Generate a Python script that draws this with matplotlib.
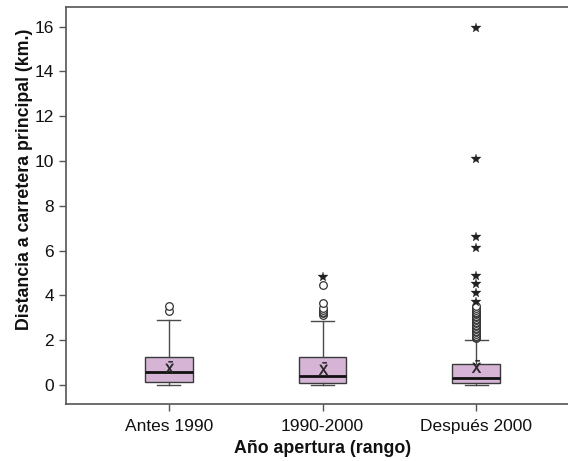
import matplotlib
matplotlib.use("Agg")
from matplotlib import pyplot as plt

plt.rcParams['font.family'] = ['Liberation Sans', 'DejaVu Sans']

# Summary statistics per opening-year group (km to main road)
groups = ["Antes 1990", "1990-2000", "Después 2000"]
q1 = [0.15, 0.10, 0.07]
median = [0.59, 0.38, 0.33]
q3 = [1.26, 1.26, 0.94]
whisker_low = [0.02, 0.02, 0.0]
whisker_high = [2.90, 2.85, 2.00]
means = [0.80, 0.78, 0.85]

# outliers (circles) and extreme values (stars)
outliers = [
    [3.32, 3.53],
    [3.12, 3.2, 3.27, 3.35, 3.45, 3.66, 4.46],
    [2.08, 2.15, 2.2, 2.28, 2.35, 2.42, 2.48, 2.55, 2.62, 2.7, 2.76,
     2.83, 2.9, 2.96, 3.02, 3.08, 3.15, 3.22, 3.28, 3.35, 3.45, 3.52],
]
extremes = [
    [],
    [4.84],
    [3.72, 4.12, 4.5, 4.87, 6.1, 6.62, 10.08, 15.95],
]

positions = [1, 2, 3]

fig = plt.figure(figsize=(5.68, 4.61), dpi=100)
ax = fig.add_axes([66 / 568, 1 - 404 / 461, 513 / 568, 397 / 461])

stats = []
for i, g in enumerate(groups):
    stats.append(dict(label=g, q1=q1[i], med=median[i], q3=q3[i],
                      whislo=whisker_low[i], whishi=whisker_high[i],
                      mean=means[i], fliers=[]))

ax.bxp(stats, positions=positions, widths=0.31, patch_artist=True,
       showmeans=True, showfliers=False,
       boxprops=dict(facecolor='#d6b4d6', edgecolor='#3a3a3a', linewidth=1.0),
       medianprops=dict(color='#111111', linewidth=2.0),
       whiskerprops=dict(color='#4a4a4a', linewidth=1.0),
       capprops=dict(color='#4a4a4a', linewidth=1.0),
       capwidths=0.15,
       meanprops=dict(marker=r'$\bar{\mathrm{X}}$', markersize=9,
                      markerfacecolor='#222222', markeredgecolor='#222222',
                      markeredgewidth=0.4))

for pos, vals in zip(positions, outliers):
    ax.plot([pos] * len(vals), vals, linestyle='none', marker='o',
            markersize=5.5, markerfacecolor='white', markeredgecolor='#333333',
            markeredgewidth=0.9)

for pos, vals in zip(positions, extremes):
    ax.plot([pos] * len(vals), vals, linestyle='none', marker='*',
            markersize=7, color='#222222', markeredgewidth=0.2)

ax.set_xlim(0.33, 3.67)
ax.set_ylim(-0.85, 16.88)
ax.set_yticks(range(0, 17, 2))
ax.set_xticks(positions)
ax.set_xticklabels(groups)

for side in ['left', 'bottom', 'top']:
    ax.spines[side].set_color('#555555')
    ax.spines[side].set_linewidth(1.2)
ax.spines['right'].set_visible(False)

ax.tick_params(axis='both', direction='out', length=5, width=1.0,
               color='#555555', labelsize=12.5, labelcolor='#111111')
ax.tick_params(axis='x', pad=6)

ax.set_xlabel("Año apertura (rango)", fontsize=12.8, fontweight='bold',
              color='#111111')
ax.set_ylabel("Distancia a carretera principal (km.)", fontsize=12.8,
              fontweight='bold', color='#111111')
ax.xaxis.set_label_coords(0.5, -0.09)
ax.yaxis.set_label_coords(-0.064, 0.567)

fig.savefig("out.png", dpi=100)
